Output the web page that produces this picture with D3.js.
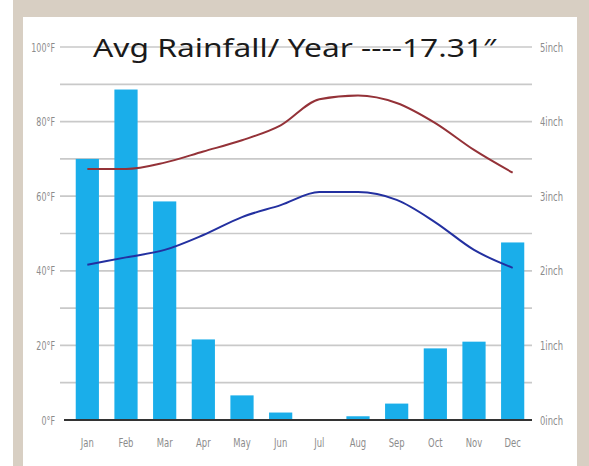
<!DOCTYPE html>
<html>
<head>
<meta charset="utf-8">
<script src="https://cdn.jsdelivr.net/npm/d3@7"></script>
<style>
  html, body { margin: 0; padding: 0; background: #fff; }
  svg { display: block; }
</style>
</head>
<body>
<script>
// Monthly climate data.
const months = ['Jan', 'Feb', 'Mar', 'Apr', 'May', 'Jun', 'Jul', 'Aug', 'Sep', 'Oct', 'Nov', 'Dec'];
const rainfall = [3.5, 4.43, 2.93, 1.08, 0.33, 0.1, 0, 0.05, 0.22, 0.96, 1.05, 2.38];   // inches
const highTemp = [67.3, 67.3, 69, 72, 75, 79, 86, 87, 85, 79.6, 72.4, 66.3];             // °F
const lowTemp  = [41.6, 43.6, 45.6, 49.6, 54.4, 57.6, 61.1, 61.1, 59, 53, 45.6, 40.8];   // °F
const tempTicks = [0, 20, 40, 60, 80, 100];
const rainTicks = [0, 1, 2, 3, 4, 5];
const gridTicks = d3.range(0, 101, 10);
const title = 'Avg Rainfall/ Year ----17.31\u2033';

const W = 589, H = 466;
const svg = d3.select('body').append('svg').attr('width', W).attr('height', H);

// Beige frame + white panel.
svg.append('rect').attr('x', 13).attr('y', 0).attr('width', W - 13).attr('height', H).attr('fill', '#d8cfc3');
svg.append('rect').attr('x', 23).attr('y', 17).attr('width', 554).attr('height', H - 17).attr('fill', '#fff');

const x = d3.scaleBand().domain(months).range([68, 532]).paddingInner(0.4).paddingOuter(0.2);
const yT = d3.scaleLinear().domain([0, 100]).range([420, 47]);
const yR = d3.scaleLinear().domain([0, 5]).range([420, 47]);

const labelFont = '"DejaVu Sans Condensed", "DejaVu Sans", sans-serif';

// Narrow grey tick labels, squeezed horizontally like the original.
function styleLabels(sel, sx) {
  sel.selectAll('text')
    .attr('fill', '#8c8c8c')
    .attr('font-size', 13)
    .attr('font-family', labelFont)
    .attr('transform', `scale(${sx},1)`);
}

// Gridlines.
svg.append('g')
  .selectAll('line')
  .data(gridTicks.filter(d => d > 0))
  .join('line')
  .attr('x1', 60).attr('x2', 532)
  .attr('y1', d => yT(d)).attr('y2', d => yT(d))
  .attr('stroke', '#c9c9c9')
  .attr('stroke-width', 1.7);

// Left axis (°F).
const leftAxis = svg.append('g')
  .attr('transform', 'translate(55,0)')
  .call(d3.axisLeft(yT).tickValues(tempTicks).tickSize(0).tickPadding(0).tickFormat(d => d + '°F'));
leftAxis.select('.domain').remove();
styleLabels(leftAxis, 0.68);

// Right axis (inch).
const rightAxis = svg.append('g')
  .attr('transform', 'translate(540,0)')
  .call(d3.axisRight(yR).tickValues(rainTicks).tickSize(0).tickPadding(0).tickFormat(d => d + 'inch'));
rightAxis.select('.domain').remove();
styleLabels(rightAxis, 0.72);

// Bars (rainfall).
svg.append('g')
  .selectAll('rect')
  .data(rainfall)
  .join('rect')
  .attr('x', (d, i) => x(months[i]))
  .attr('width', x.bandwidth())
  .attr('y', d => yR(d))
  .attr('height', d => yR(0) - yR(d))
  .attr('fill', '#1aaeea');

// Baseline.
svg.append('line')
  .attr('x1', 64).attr('x2', 532)
  .attr('y1', yT(0)).attr('y2', yT(0))
  .attr('stroke', '#333').attr('stroke-width', 2);

// Bottom axis (months).
const bottomAxis = svg.append('g')
  .attr('transform', `translate(0,${yT(0) + 16})`)
  .call(d3.axisBottom(x).tickSize(0).tickPadding(2));
bottomAxis.select('.domain').remove();
styleLabels(bottomAxis, 0.72);

// Temperature lines.
const line = d3.line()
  .x((d, i) => x(months[i]) + x.bandwidth() / 2)
  .y(d => yT(d))
  .curve(d3.curveMonotoneX);

svg.append('path').datum(highTemp)
  .attr('d', line).attr('fill', 'none')
  .attr('stroke', '#943238').attr('stroke-width', 2);

svg.append('path').datum(lowTemp)
  .attr('d', line).attr('fill', 'none')
  .attr('stroke', '#2330a0').attr('stroke-width', 2);

// Title.
svg.append('text')
  .attr('x', 93).attr('y', 57)
  .attr('font-family', '"Noto Sans", sans-serif')
  .attr('font-size', 26)
  .attr('fill', '#1a1a1a')
  .attr('textLength', 403)
  .attr('lengthAdjust', 'spacingAndGlyphs')
  .text(title);
</script>
</body>
</html>
